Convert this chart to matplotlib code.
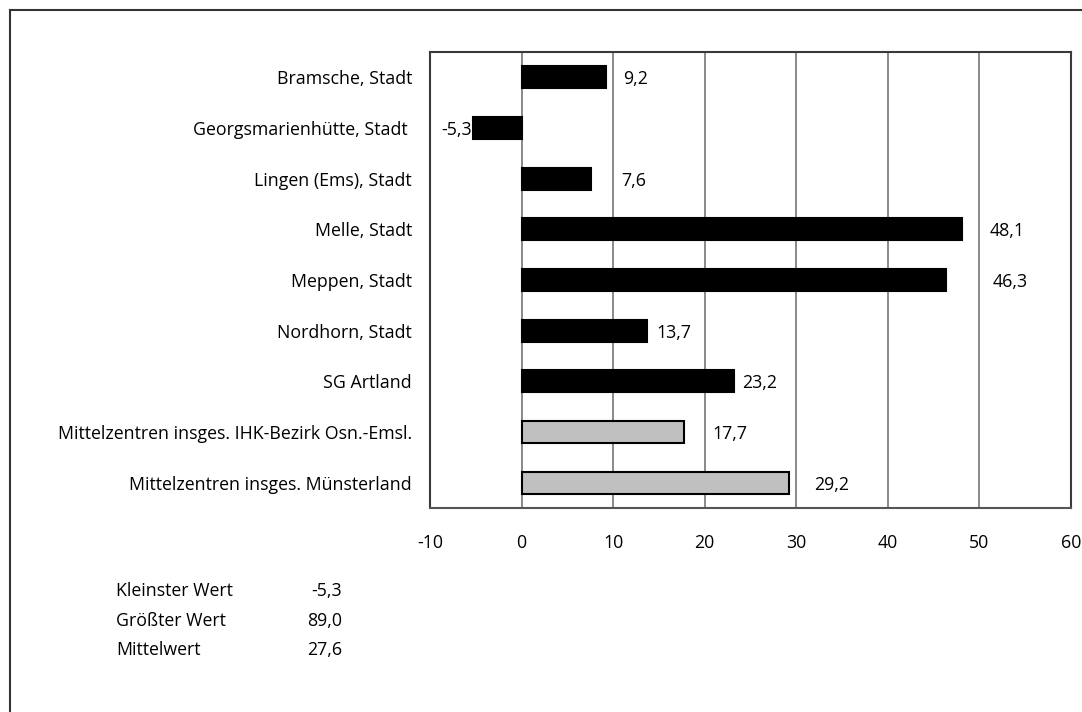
import matplotlib
matplotlib.use("Agg")
import matplotlib.pyplot as plt
from matplotlib.lines import Line2D
from matplotlib.transforms import offset_copy

plt.rcParams['font.family'] = ['Open Sans', 'DejaVu Sans']

categories = [
    "Bramsche, Stadt",
    "Georgsmarienhütte, Stadt ",
    "Lingen (Ems), Stadt",
    "Melle, Stadt",
    "Meppen, Stadt",
    "Nordhorn, Stadt",
    "SG Artland",
    "Mittelzentren insges. IHK-Bezirk Osn.-Emsl.",
    "Mittelzentren insges. Münsterland",
]
values = [9.2, -5.3, 7.6, 48.1, 46.3, 13.7, 23.2, 17.7, 29.2]
is_summary = [False, False, False, False, False, False, False, True, True]
value_labels = ["9,2", "-5,3", "7,6", "48,1", "46,3", "13,7", "23,2", "17,7", "29,2"]
# label offsets from bar end (in pixels), as in the original layout
label_dx_px = [17, -1, 30, 28, 47, 9, 8, 29, 25]

xticks = [-10, 0, 10, 20, 30, 40, 50, 60]
xtick_labels = ["-10", "0", "10", "20", "30", "40", "50", "60"]

stats_names = ["Kleinster Wert", "Größter Wert", "Mittelwert"]
stats_values = ["-5,3", "89,0", "27,6"]

FS = 12.8
W, H = 1082, 712
fig = plt.figure(figsize=(W / 100, H / 100), dpi=100)
ax = fig.add_axes([430 / W, 1 - 508 / H, (1071 - 430) / W, (508 - 52) / H])

ypos = list(range(len(categories)))
colors = ["#c0c0c0" if s else "black" for s in is_summary]
bars = ax.barh(ypos, values, height=0.43, color=colors, edgecolor="black",
               linewidth=1.5, zorder=3)

ax.set_xlim(-10, 60)
ax.set_ylim(len(categories) - 0.5, -0.5)
ax.set_xticks(xticks)
ax.set_xticklabels(xtick_labels)
ax.set_yticks(ypos)
ax.set_yticklabels(categories)
ax.tick_params(axis="both", length=0, labelsize=FS, colors="black")
ax.tick_params(axis="x", pad=19)
ax.tick_params(axis="y", pad=13)

for xv in [0, 10, 20, 30, 40, 50]:
    ax.axvline(xv, color="#808080", linewidth=1.3, zorder=1)

for side in ["left", "right", "top"]:
    ax.spines[side].set_color("#3a3a3a")
    ax.spines[side].set_linewidth(1.5)
ax.spines["bottom"].set_color("#555555")
ax.spines["bottom"].set_linewidth(1.5)

for i, (v, lab, dx) in enumerate(zip(values, value_labels, label_dx_px)):
    ha = "left" if v >= 0 else "right"
    d = dx if v >= 0 else -abs(dx)
    tr = offset_copy(ax.transData, fig=fig, x=d * 72 / 100, y=-2 * 72 / 100, units="points")
    ax.text(v, i, lab, transform=tr, ha=ha, va="center", fontsize=FS, zorder=4)

for k, (name, val) in enumerate(zip(stats_names, stats_values)):
    yy = 1 - (591 + k * 29.5) / H
    fig.text(116 / W, yy, name, ha="left", va="center", fontsize=FS)
    fig.text(342 / W, yy, val, ha="right", va="center", fontsize=FS)

# outer frame (left and top edges visible)
fig.add_artist(Line2D([10 / W, 10 / W], [0, 1 - 10 / H], transform=fig.transFigure,
                      color="#333333", linewidth=1.5))
fig.add_artist(Line2D([10 / W, 1], [1 - 10 / H, 1 - 10 / H], transform=fig.transFigure,
                      color="#333333", linewidth=1.5))

fig.savefig("out.png", dpi=100)
